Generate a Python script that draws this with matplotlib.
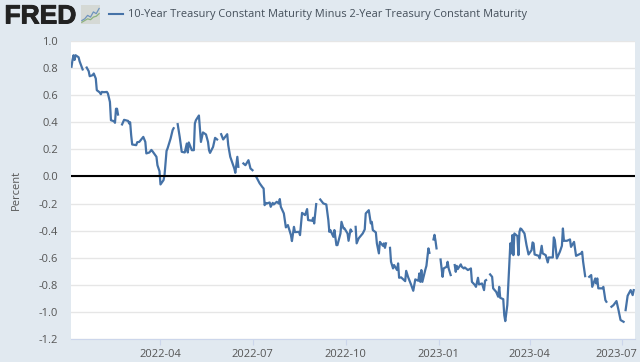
import matplotlib
matplotlib.use("Agg")
import matplotlib.dates as mdates
import matplotlib.patheffects as pe
import matplotlib.pyplot as plt
import matplotlib.transforms as mtrans
import numpy as np
import pandas as pd

nan = np.nan

title = "10-Year Treasury Constant Maturity Minus 2-Year Treasury Constant Maturity"

# one row per stretch between market holidays, holiday itself is nan
dates_2022a = [
    "2022-01-03", "2022-01-04", "2022-01-05", "2022-01-06", "2022-01-07", "2022-01-10", "2022-01-11", "2022-01-12", "2022-01-14",
    "2022-01-17",
    "2022-01-18", "2022-01-19", "2022-01-20", "2022-01-21", "2022-01-24", "2022-01-25", "2022-01-27", "2022-01-28", "2022-01-31",
    "2022-02-01", "2022-02-02", "2022-02-04", "2022-02-07", "2022-02-08", "2022-02-10", "2022-02-11", "2022-02-14", "2022-02-15",
    "2022-02-16", "2022-02-17", "2022-02-18",
    "2022-02-21",
    "2022-02-22", "2022-02-24", "2022-02-28", "2022-03-01", "2022-03-02", "2022-03-03", "2022-03-04", "2022-03-08", "2022-03-09",
    "2022-03-11", "2022-03-15", "2022-03-17", "2022-03-18", "2022-03-21", "2022-03-23", "2022-03-24", "2022-03-28", "2022-03-29",
    "2022-03-31", "2022-04-01", "2022-04-04", "2022-04-05", "2022-04-06", "2022-04-07", "2022-04-08", "2022-04-11", "2022-04-13",
    "2022-04-14",
    "2022-04-15",
    "2022-04-18", "2022-04-20", "2022-04-22", "2022-04-25", "2022-04-27", "2022-04-28", "2022-04-29", "2022-05-02", "2022-05-04",
    "2022-05-05", "2022-05-06", "2022-05-09", "2022-05-11", "2022-05-13", "2022-05-16", "2022-05-18", "2022-05-19", "2022-05-20",
    "2022-05-23", "2022-05-25", "2022-05-27",
    "2022-05-30",
    "2022-05-31", "2022-06-02", "2022-06-06", "2022-06-07", "2022-06-09", "2022-06-13", "2022-06-14", "2022-06-15", "2022-06-16",
    "2022-06-17",
    "2022-06-20",
    "2022-06-22", "2022-06-24", "2022-06-27", "2022-06-29", "2022-07-01",
    "2022-07-04",
]
values_2022a = [
    0.81, 0.86, 0.895, 0.86, 0.895, 0.88, 0.85, 0.83, 0.79,
    nan,
    0.804, 0.79, 0.777, 0.74, 0.748, 0.76, 0.723, 0.637, 0.62,
    0.607, 0.624, 0.622, 0.624, 0.612, 0.55, 0.415, 0.408, 0.396,
    0.50, 0.50, 0.457,
    nan,
    0.384, 0.418, 0.41, 0.391, 0.40, 0.305, 0.236, 0.231, 0.253,
    0.255, 0.292, 0.255, 0.17, 0.177, 0.196, 0.187, 0.145, 0.083,
    0.039, -0.059, -0.027, 0.01, 0.096, 0.189, 0.207, 0.28, 0.342,
    0.356,
    nan,
    0.386, 0.292, 0.182, 0.177, 0.243, 0.177, 0.251, 0.194, 0.194,
    0.391, 0.415, 0.45, 0.255, 0.325, 0.31, 0.255, 0.194, 0.174,
    0.218, 0.285, 0.273,
    nan,
    0.312, 0.273, 0.312, 0.231, 0.145, 0.059, 0.027, 0.083, 0.145,
    0.071,
    nan,
    0.096, 0.083, 0.12, 0.059, 0.046,
    nan,
]

dates_2022b = [
    "2022-07-05", "2022-07-08", "2022-07-11", "2022-07-12", "2022-07-13", "2022-07-14", "2022-07-15", "2022-07-18", "2022-07-19",
    "2022-07-21", "2022-07-22", "2022-07-25", "2022-07-27", "2022-07-28", "2022-07-29", "2022-08-01", "2022-08-02", "2022-08-03",
    "2022-08-05", "2022-08-08", "2022-08-09", "2022-08-11", "2022-08-12", "2022-08-16", "2022-08-17", "2022-08-19", "2022-08-22",
    "2022-08-24", "2022-08-25", "2022-08-29", "2022-08-30", "2022-08-31", "2022-09-02",
    "2022-09-05",
    "2022-09-06", "2022-09-09", "2022-09-12", "2022-09-14", "2022-09-15", "2022-09-16", "2022-09-19", "2022-09-20", "2022-09-22",
    "2022-09-23", "2022-09-26", "2022-09-27", "2022-09-29", "2022-09-30", "2022-10-03", "2022-10-04", "2022-10-06", "2022-10-07",
    "2022-10-10",
    "2022-10-11", "2022-10-12", "2022-10-14", "2022-10-18", "2022-10-20", "2022-10-21", "2022-10-24", "2022-10-26", "2022-10-27",
    "2022-10-28", "2022-10-31", "2022-11-01", "2022-11-03", "2022-11-04", "2022-11-07", "2022-11-08", "2022-11-09", "2022-11-10",
    "2022-11-11",
    "2022-11-14", "2022-11-15", "2022-11-17", "2022-11-18", "2022-11-21", "2022-11-22", "2022-11-23", "2022-11-25", "2022-11-29",
    "2022-11-30", "2022-12-02", "2022-12-05", "2022-12-07", "2022-12-09", "2022-12-12", "2022-12-13", "2022-12-14", "2022-12-15",
    "2022-12-16", "2022-12-19", "2022-12-20", "2022-12-22", "2022-12-23",
    "2022-12-26",
    "2022-12-27", "2022-12-28", "2022-12-29", "2022-12-30",
    "2023-01-02",
]
values_2022b = [
    -0.007, -0.05, -0.081, -0.089, -0.212, -0.195, -0.2, -0.192, -0.224,
    -0.195, -0.207, -0.187, -0.2, -0.167, -0.224, -0.273, -0.322, -0.376,
    -0.359, -0.433, -0.477, -0.372, -0.411, -0.409, -0.433, -0.269, -0.285,
    -0.241, -0.322, -0.327, -0.305, -0.347, -0.204,
    nan,
    -0.17, -0.199, -0.207, -0.322, -0.409, -0.396, -0.446, -0.396, -0.507,
    -0.507, -0.421, -0.335, -0.384, -0.384, -0.421, -0.475, -0.391, -0.404,
    nan,
    -0.372, -0.494, -0.457, -0.421, -0.391, -0.273, -0.249, -0.347, -0.335,
    -0.396, -0.413, -0.494, -0.568, -0.483, -0.512, -0.494, -0.527, -0.494,
    nan,
    -0.527, -0.63, -0.679, -0.654, -0.691, -0.642, -0.748, -0.745, -0.773,
    -0.697, -0.745, -0.802, -0.844, -0.76, -0.77, -0.716, -0.778, -0.691,
    -0.778, -0.686, -0.66, -0.531, -0.564,
    nan,
    -0.465, -0.431, -0.475, -0.531,
    nan,
]

dates_2023 = [
    "2023-01-03", "2023-01-04", "2023-01-05", "2023-01-06", "2023-01-09", "2023-01-10", "2023-01-11", "2023-01-13",
    "2023-01-16",
    "2023-01-17", "2023-01-18", "2023-01-19", "2023-01-20", "2023-01-23", "2023-01-24", "2023-01-26", "2023-01-27", "2023-01-30",
    "2023-02-02", "2023-02-03", "2023-02-06", "2023-02-07", "2023-02-09", "2023-02-10", "2023-02-13", "2023-02-15", "2023-02-16",
    "2023-02-17",
    "2023-02-20",
    "2023-02-21", "2023-02-23", "2023-02-24", "2023-02-27", "2023-03-01", "2023-03-02", "2023-03-03", "2023-03-06", "2023-03-07",
    "2023-03-08", "2023-03-10", "2023-03-13", "2023-03-14", "2023-03-15", "2023-03-16", "2023-03-17", "2023-03-20", "2023-03-21",
    "2023-03-22", "2023-03-23", "2023-03-24", "2023-03-27", "2023-03-29", "2023-03-31", "2023-04-03", "2023-04-04", "2023-04-05",
    "2023-04-06", "2023-04-10", "2023-04-11", "2023-04-13", "2023-04-14", "2023-04-17", "2023-04-19", "2023-04-20", "2023-04-24",
    "2023-04-25", "2023-04-26", "2023-04-28", "2023-05-01", "2023-05-03", "2023-05-04", "2023-05-05", "2023-05-08", "2023-05-11",
    "2023-05-12", "2023-05-15", "2023-05-17", "2023-05-22", "2023-05-23", "2023-05-24", "2023-05-26",
    "2023-05-29",
    "2023-05-30", "2023-06-01", "2023-06-02", "2023-06-05", "2023-06-06", "2023-06-07", "2023-06-08", "2023-06-12", "2023-06-13",
    "2023-06-15", "2023-06-16",
    "2023-06-19",
    "2023-06-21", "2023-06-23", "2023-06-26", "2023-06-28", "2023-06-30", "2023-07-03",
    "2023-07-04",
    "2023-07-05", "2023-07-07", "2023-07-10", "2023-07-12", "2023-07-13",
]
values_2023 = [
    -0.613, -0.679, -0.741, -0.679, -0.667, -0.63, -0.679, -0.728,
    nan,
    -0.654, -0.704, -0.66, -0.684, -0.649, -0.667, -0.679, -0.672, -0.691,
    -0.679, -0.778, -0.802, -0.815, -0.748, -0.797, -0.79, -0.839, -0.77,
    -0.765,
    nan,
    -0.723, -0.741, -0.826, -0.852, -0.888, -0.815, -0.896, -0.906, -1.024,
    -1.068, -0.95, -0.494, -0.568, -0.433, -0.581, -0.421, -0.44, -0.581,
    -0.409, -0.384, -0.389, -0.421, -0.507, -0.576, -0.544, -0.487, -0.494,
    -0.576, -0.586, -0.605, -0.512, -0.568, -0.581, -0.635, -0.598, -0.598,
    -0.45, -0.47, -0.605, -0.556, -0.512, -0.384, -0.475, -0.475, -0.465,
    -0.52, -0.483, -0.586, -0.568, -0.556, -0.63, -0.736,
    nan,
    -0.741, -0.728, -0.815, -0.753, -0.79, -0.753, -0.826, -0.826, -0.815,
    -0.913, -0.925,
    nan,
    -0.962, -0.95, -0.92, -0.987, -1.06, -1.073,
    nan,
    -0.987, -0.881, -0.839, -0.876, -0.839,
]

y_ticks = [-1.2, -1.0, -0.8, -0.6, -0.4, -0.2, 0.0, 0.2, 0.4, 0.6, 0.8, 1.0]
x_ticks = ["2022-04-01", "2022-07-01", "2022-10-01", "2023-01-01", "2023-04-01", "2023-07-01"]

logo_blue = [2, 3, 5, 4, 7, 6, 9]
logo_green = [1, 2, 3, 2.5, 4, 4.5, 6]

BG = "#e1e9f0"
TEXT = "#555555"
W, H = 640, 362

plt.rcParams["font.family"] = ["Open Sans", "DejaVu Sans"]

fig = plt.figure(figsize=(W / 100, H / 100), dpi=100, facecolor=BG)
ax = fig.add_axes([70.5 / W, 1 - 339 / H, (634.7 - 70.5) / W, (339 - 41) / H])

dates = pd.to_datetime(dates_2022a + dates_2022b + dates_2023)
values = np.array(values_2022a + values_2022b + values_2023)

ax.plot(dates, values, color="#4572a7", lw=1.6, solid_joinstyle="round", zorder=3)
ax.axhline(0, color="black", lw=1.5, zorder=4)

ax.set_xlim(pd.Timestamp("2022-01-02"), pd.Timestamp("2023-07-14"))
ax.set_ylim(-1.2, 1.0)
ax.set_yticks(y_ticks)
ax.set_yticklabels([f"{v:.1f}" for v in y_ticks])
ax.set_xticks(pd.to_datetime(x_ticks))
ax.xaxis.set_major_formatter(mdates.DateFormatter("%Y-%m"))
ax.grid(axis="y", color="#e6e6e6", lw=1.0, zorder=1)
ax.set_axisbelow(True)
for side in ["top", "right", "left"]:
    ax.spines[side].set_visible(False)
ax.spines["bottom"].set_color("#ccd6eb")
ax.spines["bottom"].set_linewidth(0.8)
ax.tick_params(axis="y", length=0, pad=9, labelsize=8, labelcolor=TEXT)
ax.tick_params(axis="x", length=4.5, width=0.8, color="#ccd6eb", pad=3, labelsize=8, labelcolor=TEXT)

# last date label is pushed left so it stays on the canvas
last_label = ax.get_xticklabels()[-1]
last_label.set_transform(last_label.get_transform() + mtrans.ScaledTranslation(-5.5 / 100, 0, fig.dpi_scale_trans))

fig.text(16 / W, 1 - 190 / H, "Percent", fontsize=8, color=TEXT, rotation=90, ha="center", va="center")

# FRED logo and series legend in the header
fig.text(4.5 / W, 1 - 23.5 / H, "FRED", fontsize=19, fontweight="bold", color="#222222", family="Liberation Sans",
         path_effects=[pe.withStroke(linewidth=0.7, foreground="#222222")])
logo = fig.add_axes([81 / W, 1 - 24 / H, 19 / W, 19 / H], facecolor="#d5d9d5")
logo.plot(logo_blue, color="#6f94bd", lw=0.9)
logo.plot(logo_green, color="#8db27f", lw=0.9)
logo.set_xticks([])
logo.set_yticks([])
logo.set_ylim(0, 11)
for spine in logo.spines.values():
    spine.set_visible(False)

fig.add_artist(plt.Line2D([109 / W, 123 / W], [1 - 14 / H, 1 - 14 / H], color="#4572a7", lw=1.5))
fig.text(128 / W, 1 - 14.5 / H, title, fontsize=7.9, color="#444f5a", va="center")

fig.savefig("out.png", dpi=100, facecolor=BG)
